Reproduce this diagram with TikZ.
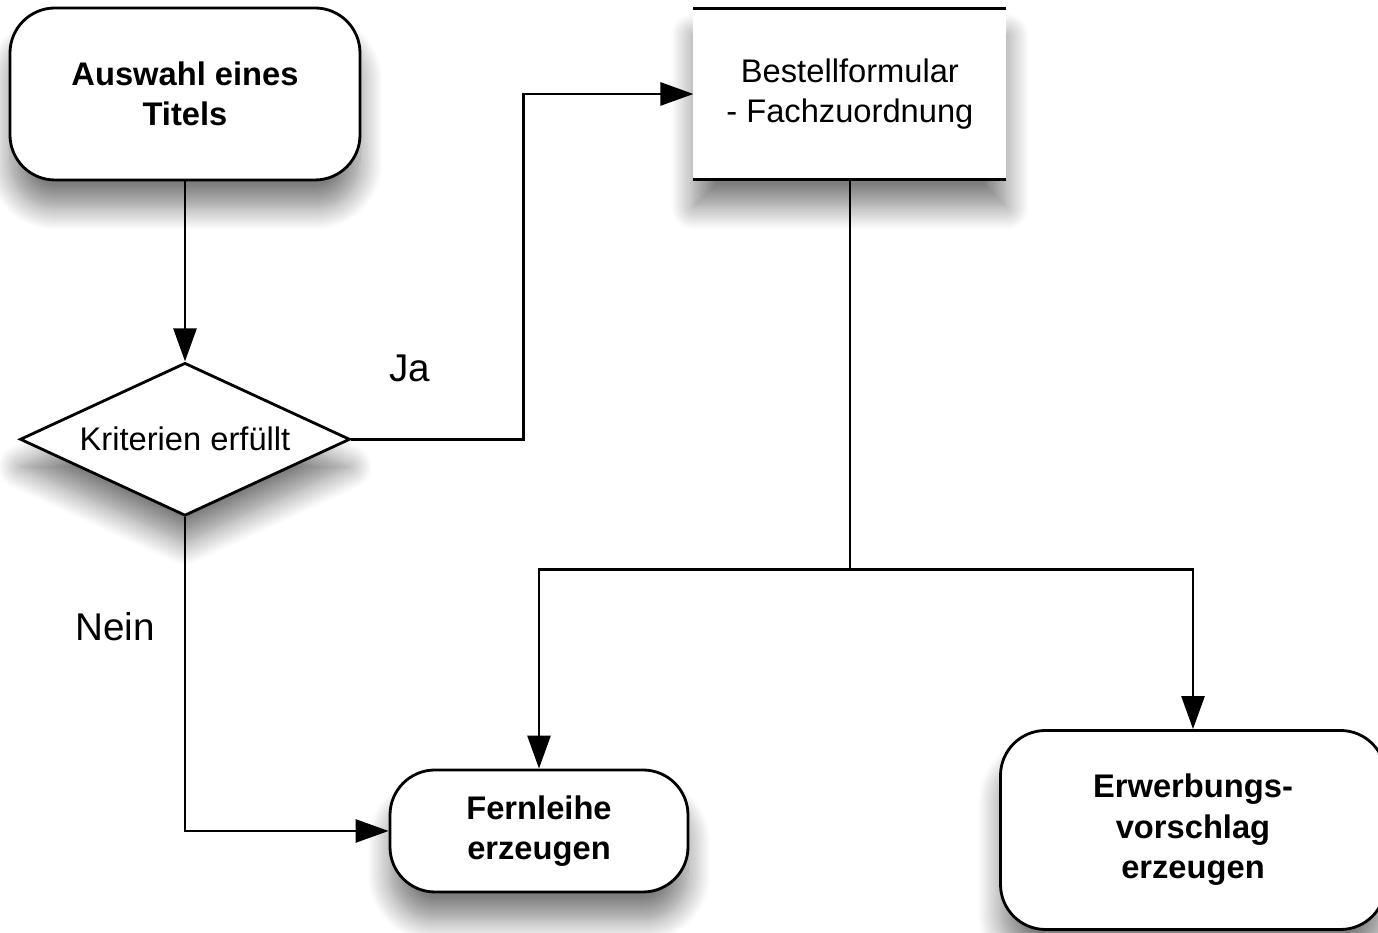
\documentclass[tikz,border=0pt]{standalone}
\usepackage{fontspec}
\setmainfont{Liberation Sans}
\usepackage{tikz}
\usetikzlibrary{shapes,arrows.meta,positioning,calc,shadows.blur}

\begin{document}
\begin{tikzpicture}[
    >={Triangle[length=0.66cm, width=0.46cm]},
    every path/.style={line width=1.6pt},
    softshadow/.style={blur shadow={shadow xshift=0cm, shadow yshift=-0.55cm, shadow blur radius=0.45cm, shadow blur steps=16, shadow opacity=50}},
    terminal/.style={rectangle, rounded corners=0.9cm, draw=black, fill=white, align=center, inner sep=0pt, font=\bfseries\fontsize{18.6}{23}\selectfont, softshadow},
    label/.style={font=\fontsize{22}{26}\selectfont}
  ]
    \useasboundingbox (0,0) rectangle (27.56,18.66);
    \node (start) [terminal, minimum width=7cm, minimum height=3.44cm] at (3.70,16.78) {Auswahl eines\\Titels};
    \node (crit) [below =3.6cm of start, diamond, shape aspect=2.16, minimum width=6.6cm, minimum height=3.06cm, inner sep=0pt, draw=black, fill=white, font=\fontsize{18.6}{23}\selectfont, softshadow] {Kriterien erfüllt};
    \node (form) [right =6.64cm of start, rectangle, minimum width=6.26cm, minimum height=3.42cm, outer sep=0pt, fill=white, align=center, font=\fontsize{18.6}{23}\selectfont, softshadow] {Bestellformular\\- Fachzuordnung};
    \draw (form.north west) -- (form.north east);
    \draw (form.south west) -- (form.south east);
    \node (fern) [terminal, minimum width=5.96cm, minimum height=2.44cm] at (10.78,2.04) {Fernleihe\\erzeugen};
    \node (erw) [terminal, minimum width=7.7cm, minimum height=3.98cm] at (23.86,2.06) {Erwerbungs-\\vorschlag\\erzeugen};
    \coordinate (split) at ($(form.south)+(0,-7.8)$);
    \node (ja) [label] at (8.20,11.30) {Ja};
    \node (nein) [label] at (2.30,6.12) {Nein};
    \draw [->] (start.south) -- (crit.north);
    \draw [->] (crit.east) -- ++(3.44,0) |- (form.west);
    \draw [->] (crit.south) |- (fern.west);
    \draw (form.south) -- (split);
    \draw [->] (split) -| (fern.north);
    \draw [->] (split) -| (erw.north);
\end{tikzpicture}
\end{document}
